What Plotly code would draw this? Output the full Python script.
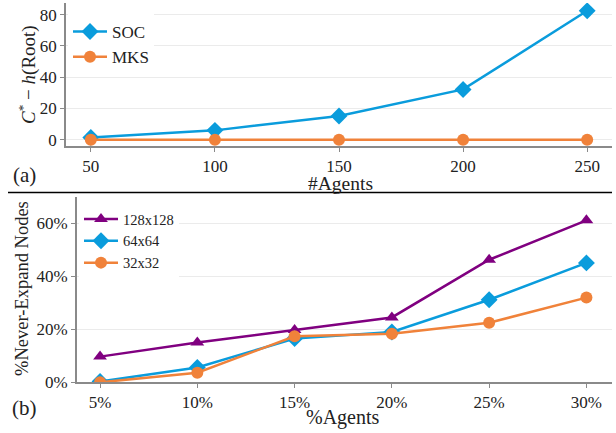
import plotly.graph_objects as go

# ---- data ----
agents = [50, 100, 150, 200, 250]
soc = [1.5, 6.0, 15.2, 32.2, 82.5]
mks = [0, 0, 0, 0, 0]

pct_agents = [5, 10, 15, 20, 25, 30]
pct_labels = ["5%", "10%", "15%", "20%", "25%", "30%"]
never_128 = [9.7, 15.0, 19.8, 24.5, 46.3, 61.2]
never_64 = [0.3, 5.6, 16.5, 19.0, 31.2, 45.1]
never_32 = [0.0, 3.6, 17.4, 18.3, 22.5, 32.0]

W, H = 616, 433
BLUE = "#0A9CDC"
ORANGE = "#F0823A"
PURPLE = "#800080"
FONT = "Liberation Serif"

def px(x):
    return x / W

def py(y):
    return 1 - y / H

fig = go.Figure()
fig.add_trace(go.Scatter(x=agents, y=soc, name="SOC", mode="lines+markers",
                         line=dict(color=BLUE, width=2.5),
                         marker=dict(symbol="diamond", size=13, color=BLUE),
                         xaxis="x", yaxis="y", legend="legend"))
fig.add_trace(go.Scatter(x=agents, y=mks, name="MKS", mode="lines+markers",
                         line=dict(color=ORANGE, width=2.5),
                         marker=dict(symbol="circle", size=12, color=ORANGE),
                         xaxis="x", yaxis="y", legend="legend"))
fig.add_trace(go.Scatter(x=pct_agents, y=never_128, name="128x128", mode="lines+markers",
                         line=dict(color=PURPLE, width=2.5),
                         marker=dict(symbol="triangle-up", size=12, color=PURPLE),
                         xaxis="x2", yaxis="y2", legend="legend2"))
fig.add_trace(go.Scatter(x=pct_agents, y=never_64, name="64x64", mode="lines+markers",
                         line=dict(color=BLUE, width=2.5),
                         marker=dict(symbol="diamond", size=13, color=BLUE),
                         xaxis="x2", yaxis="y2", legend="legend2"))
fig.add_trace(go.Scatter(x=pct_agents, y=never_32, name="32x32", mode="lines+markers",
                         line=dict(color=ORANGE, width=2.5),
                         marker=dict(symbol="circle", size=12, color=ORANGE),
                         xaxis="x2", yaxis="y2", legend="legend2"))

axis_common = dict(showline=True, linecolor="#8a8a8a", linewidth=1.5,
                   ticks="outside", ticklen=4, tickcolor="#8a8a8a", tickwidth=1,
                   tickfont=dict(family=FONT, size=17, color="#222"),
                   zeroline=False, automargin=False)

def ann(text, x, y, size, angle=0):
    return dict(text=text, x=px(x), y=py(y), xref="paper", yref="paper",
                xanchor="center", yanchor="middle", showarrow=False,
                textangle=angle, font=dict(family=FONT, size=size, color="#222"))

fig.update_layout(
    width=W, height=H,
    margin=dict(l=0, r=0, t=0, b=0),
    paper_bgcolor="white", plot_bgcolor="white",
    font=dict(family=FONT, color="#222"),
    showlegend=True,
    xaxis=dict(domain=[px(66), px(612)], range=[40, 260],
               tickvals=agents, showgrid=False, anchor="y", **axis_common),
    yaxis=dict(domain=[py(146), py(3)], range=[-4, 87.5],
               tickvals=[0, 20, 40, 60, 80], showgrid=True, gridcolor="#ebebeb",
               gridwidth=1, anchor="x", **axis_common),
    xaxis2=dict(domain=[px(76.7), px(611.7)], range=[3.8, 31.3],
                tickvals=pct_agents, ticktext=pct_labels, showgrid=False,
                anchor="y2", **axis_common),
    yaxis2=dict(domain=[py(382.3), py(197)], range=[0, 70],
                tickvals=[0, 20, 40, 60], ticktext=["0%", "20%", "40%", "60%"],
                showgrid=True, gridcolor="#ebebeb", gridwidth=1, anchor="x2",
                **axis_common),
    legend=dict(x=px(68), y=py(14), xanchor="left", yanchor="top",
                bgcolor="rgba(255,255,255,1)", font=dict(family=FONT, size=17, color="#222"),
                tracegroupgap=0, itemwidth=34),
    legend2=dict(x=px(79), y=py(203), xanchor="left", yanchor="top",
                 bgcolor="rgba(255,255,255,1)", font=dict(family=FONT, size=14.5, color="#222"),
                 tracegroupgap=0, itemwidth=34),
    shapes=[dict(type="line", xref="paper", yref="paper",
                 x0=px(8), x1=px(612), y0=py(192.5), y1=py(192.5),
                 line=dict(color="black", width=1.5))],
    annotations=[
        ann("<i>C</i><sup>*</sup> − <i>h</i>(Root)", 27, 75, 19, -90),
        ann("#Agents", 340, 183.5, 19.5),
        ann("(a)", 24, 175, 21),
        ann("%Never-Expand Nodes", 22, 289, 18.5, -90),
        ann("%Agents", 343, 417, 20),
        ann("(b)", 24, 408, 21),
    ],
)

fig.write_html("out.html", config={"displayModeBar": False},
               post_script="document.body.style.margin='0';document.body.style.padding='0';")
